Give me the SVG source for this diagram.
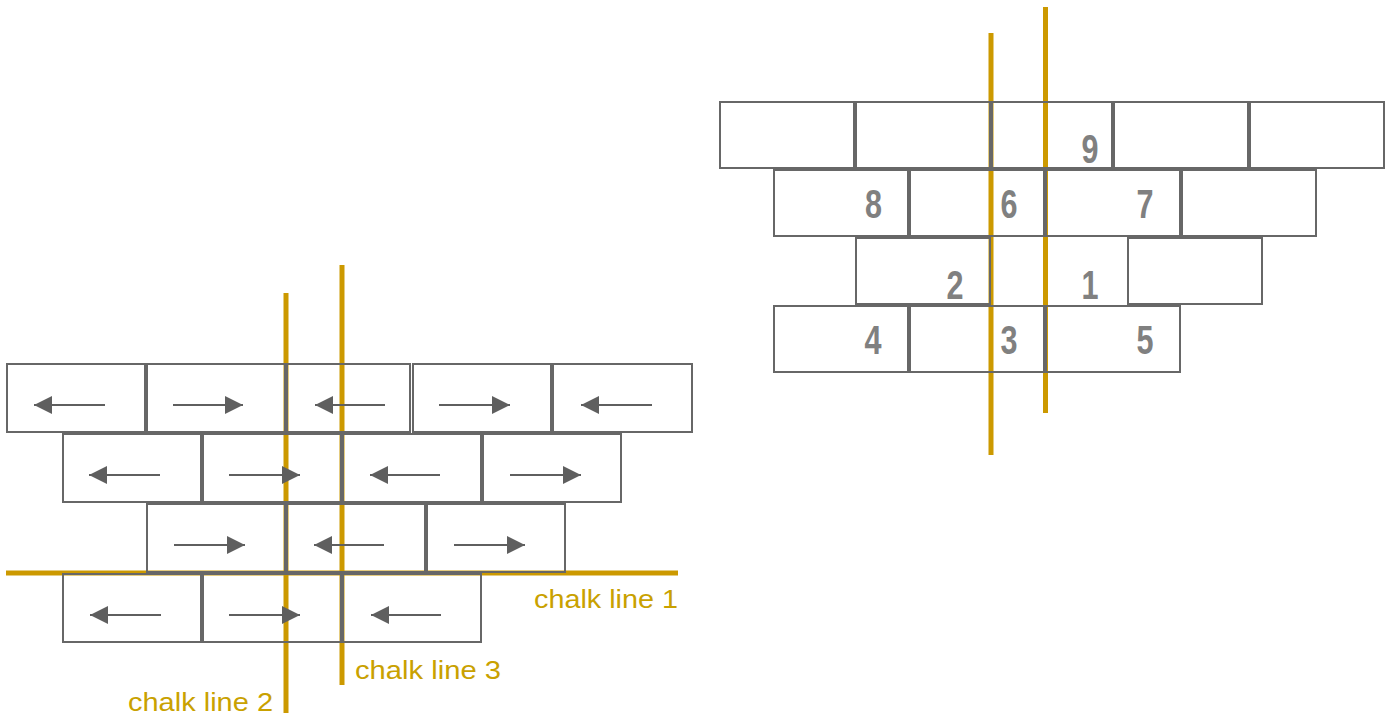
<svg xmlns="http://www.w3.org/2000/svg" width="1392" height="715" viewBox="0 0 1392 715">
<defs>
<style>
.brick{fill:none;stroke:#676767;stroke-width:2}
.chalk{stroke:#CC9900;stroke-width:5;fill:none}
.arr{stroke:#5f5f5f;stroke-width:2;fill:none;marker-end:url(#ah)}
.lbl{font-family:"Liberation Sans",Arial,sans-serif;font-size:26px;fill:#C9A100}
.num{font-family:"Liberation Sans",Arial,sans-serif;font-weight:bold;font-size:40px;fill:#808080;text-anchor:middle}
</style>
<marker id="ah" markerUnits="userSpaceOnUse" markerWidth="18" markerHeight="18" refX="18" refY="9" orient="auto">
<path d="M0,0 L18,9 L0,18 z" fill="#5f5f5f"/>
</marker>
</defs>
<rect width="1392" height="715" fill="#ffffff"/>
<g id="chalk-lines">
<line class="chalk" x1="6" y1="573" x2="678" y2="573"/>
<line class="chalk" x1="286" y1="293" x2="286" y2="713"/>
<line class="chalk" x1="342" y1="265" x2="342" y2="685"/>
<line class="chalk" x1="991" y1="33" x2="991" y2="455"/>
<line class="chalk" x1="1045.5" y1="7" x2="1045.5" y2="413"/>
</g>
<g id="left-wall">
<g id="L1a"><rect class="brick" x="7" y="364" width="138" height="68"/><line class="arr" x1="105" y1="405" x2="34" y2="405"/></g>
<g id="L1b"><rect class="brick" x="147" y="364" width="138" height="68"/><line class="arr" x1="173" y1="405" x2="243" y2="405"/></g>
<g id="L1c"><rect class="brick" x="287" y="364" width="123" height="68"/><line class="arr" x1="385" y1="405" x2="315" y2="405"/></g>
<g id="L1d"><rect class="brick" x="413" y="364" width="138" height="68"/><line class="arr" x1="439" y1="405" x2="510" y2="405"/></g>
<g id="L1e"><rect class="brick" x="553" y="364" width="139" height="68"/><line class="arr" x1="652" y1="405" x2="581" y2="405"/></g>
<g id="L2a"><rect class="brick" x="63" y="434" width="138" height="68"/><line class="arr" x1="160" y1="475" x2="89" y2="475"/></g>
<g id="L2b"><rect class="brick" x="203" y="434" width="138" height="68"/><line class="arr" x1="229" y1="475" x2="300" y2="475"/></g>
<g id="L2c"><rect class="brick" x="343" y="434" width="138" height="68"/><line class="arr" x1="440" y1="475" x2="370" y2="475"/></g>
<g id="L2d"><rect class="brick" x="483" y="434" width="138" height="68"/><line class="arr" x1="510" y1="475" x2="581" y2="475"/></g>
<g id="L3a"><rect class="brick" x="147" y="504" width="138" height="68"/><line class="arr" x1="174" y1="545" x2="245" y2="545"/></g>
<g id="L3b"><rect class="brick" x="287" y="504" width="138" height="68"/><line class="arr" x1="384" y1="545" x2="314" y2="545"/></g>
<g id="L3c"><rect class="brick" x="427" y="504" width="138" height="68"/><line class="arr" x1="454" y1="545" x2="525" y2="545"/></g>
<g id="L4a"><rect class="brick" x="63" y="574" width="138" height="68"/><line class="arr" x1="161" y1="615" x2="90" y2="615"/></g>
<g id="L4b"><rect class="brick" x="203" y="574" width="138" height="68"/><line class="arr" x1="229" y1="615" x2="300" y2="615"/></g>
<g id="L4c"><rect class="brick" x="343" y="574" width="138" height="68"/><line class="arr" x1="441" y1="615" x2="371" y2="615"/></g>
</g>
<g id="labels">
<text class="lbl" x="534" y="608" textLength="144" lengthAdjust="spacingAndGlyphs">chalk line 1</text>
<text class="lbl" x="128" y="711" textLength="145" lengthAdjust="spacingAndGlyphs">chalk line 2</text>
<text class="lbl" x="355" y="679" textLength="146" lengthAdjust="spacingAndGlyphs">chalk line 3</text>
</g>
<g id="right-wall">
<g id="R1a"><rect class="brick" x="720" y="102" width="134" height="66"/></g>
<g id="R1b"><rect class="brick" x="856" y="102" width="134" height="66"/></g>
<g id="R1c"><rect class="brick" x="992" y="102" width="120" height="66"/><text class="num" x="1090" y="163" textLength="17" lengthAdjust="spacingAndGlyphs">9</text></g>
<g id="R1d"><rect class="brick" x="1114" y="102" width="134" height="66"/></g>
<g id="R1e"><rect class="brick" x="1250" y="102" width="134" height="66"/></g>
<g id="R2a"><rect class="brick" x="774" y="170" width="134" height="66"/><text class="num" x="873.5" y="218" textLength="17" lengthAdjust="spacingAndGlyphs">8</text></g>
<g id="R2b"><rect class="brick" x="910" y="170" width="134" height="66"/><text class="num" x="1009" y="218" textLength="17" lengthAdjust="spacingAndGlyphs">6</text></g>
<g id="R2c"><rect class="brick" x="1046" y="170" width="134" height="66"/><text class="num" x="1145" y="218" textLength="17" lengthAdjust="spacingAndGlyphs">7</text></g>
<g id="R2d"><rect class="brick" x="1182" y="170" width="134" height="66"/></g>
<g id="R3a"><rect class="brick" x="856" y="238" width="134" height="66"/><text class="num" x="955" y="299" textLength="17" lengthAdjust="spacingAndGlyphs">2</text></g>
<g id="R3slot"><text class="num" x="1090" y="299" textLength="17" lengthAdjust="spacingAndGlyphs">1</text></g>
<g id="R3c"><rect class="brick" x="1128" y="238" width="134" height="66"/></g>
<g id="R4a"><rect class="brick" x="774" y="306" width="134" height="66"/><text class="num" x="873" y="354" textLength="17" lengthAdjust="spacingAndGlyphs">4</text></g>
<g id="R4b"><rect class="brick" x="910" y="306" width="134" height="66"/><text class="num" x="1009" y="354" textLength="17" lengthAdjust="spacingAndGlyphs">3</text></g>
<g id="R4c"><rect class="brick" x="1046" y="306" width="134" height="66"/><text class="num" x="1145" y="354" textLength="17" lengthAdjust="spacingAndGlyphs">5</text></g>
</g>
</svg>
